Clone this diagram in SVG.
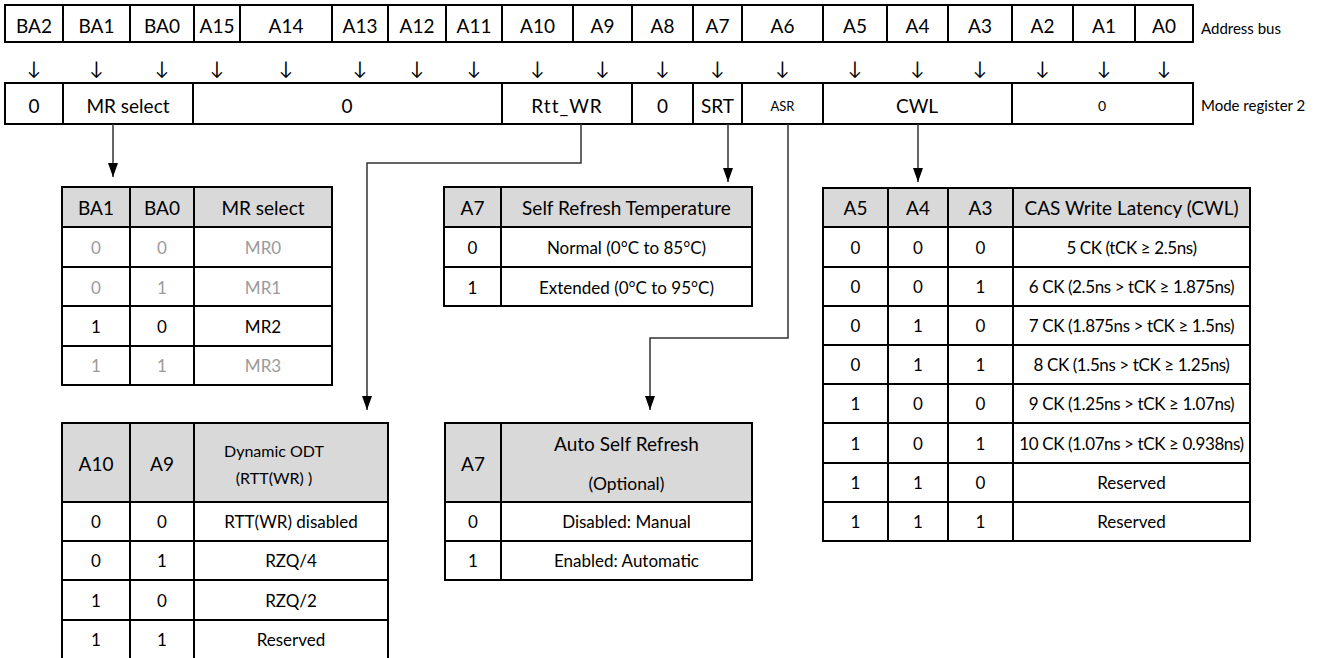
<svg xmlns="http://www.w3.org/2000/svg" width="1321" height="658" viewBox="0 0 1321 658">
<defs>
<style>
text{font-family:Lato,"Open Sans","Liberation Sans",sans-serif;fill:#000;text-anchor:middle;dominant-baseline:central}
.b{fill:none;stroke:#000;stroke-width:2}
.l{stroke:#000;stroke-width:2}
.h{fill:#d9d9d9}
.t{font-size:19px}
.s{font-size:17px}
.c{font-size:17px;letter-spacing:-0.4px}
.g{fill:#9a9a9a}
.ar{font-family:"Liberation Sans",sans-serif;font-size:19px}
.lab{font-size:15px;text-anchor:start}
.con{fill:none;stroke:#333;stroke-width:1.5}
</style>
<marker id="ah" viewBox="0 0 14 10" refX="14" refY="5" markerWidth="14" markerHeight="10" markerUnits="userSpaceOnUse" orient="auto">
<path d="M0,0 L14,5 L0,10 Z" fill="#000"/>
</marker>
</defs>
<rect width="1321" height="658" fill="#fff"/>

<g id="address-bus">
<rect class="b" x="5" y="5" width="1188" height="37"/>
<path class="l" d="M63,5V42M130,5V42M194,5V42M240,5V42M332,5V42M388,5V42M446,5V42M502,5V42M573,5V42M632,5V42M693,5V42M742,5V42M823,5V42M887,5V42M948,5V42M1012,5V42M1073,5V42M1135,5V42"/>
<g class="t">
<text x="34" y="25">BA2</text><text x="96.5" y="25">BA1</text><text x="162" y="25">BA0</text><text x="217" y="25">A15</text><text x="286" y="25">A14</text><text x="360" y="25">A13</text><text x="417" y="25">A12</text><text x="474" y="25">A11</text><text x="537.5" y="25">A10</text><text x="602.5" y="25">A9</text><text x="662.5" y="25">A8</text><text x="717.5" y="25">A7</text><text x="782.5" y="25">A6</text><text x="855" y="25">A5</text><text x="917.5" y="25">A4</text><text x="980" y="25">A3</text><text x="1042.5" y="25">A2</text><text x="1104" y="25">A1</text><text x="1164" y="25">A0</text>
</g>
<text class="lab" x="1201" y="28">Address bus</text>
</g>

<g id="bus-arrows" class="ar">
<text x="34" y="67">↓</text><text x="96.5" y="67">↓</text><text x="162" y="67">↓</text><text x="217" y="67">↓</text><text x="286" y="67">↓</text><text x="360" y="67">↓</text><text x="417" y="67">↓</text><text x="474" y="67">↓</text><text x="537.5" y="67">↓</text><text x="602.5" y="67">↓</text><text x="662.5" y="67">↓</text><text x="717.5" y="67">↓</text><text x="782.5" y="67">↓</text><text x="855" y="67">↓</text><text x="917.5" y="67">↓</text><text x="980" y="67">↓</text><text x="1042.5" y="67">↓</text><text x="1104" y="67">↓</text><text x="1164" y="67">↓</text>
</g>

<g id="mode-register-2">
<rect class="b" x="5" y="83" width="1188" height="41"/>
<path class="l" d="M63,83V124M193,83V124M502,83V124M632,83V124M693,83V124M742,83V124M823,83V124M1012,83V124"/>
<g class="t">
<text x="34" y="105">0</text><text x="128" y="105">MR select</text><text x="347" y="105">0</text><text x="567" y="105" style="letter-spacing:1px">Rtt_WR</text><text x="662.5" y="105">0</text><text x="717.5" y="105">SRT</text><text x="917" y="105">CWL</text>
</g>
<text x="782.5" y="106" style="font-size:13px">ASR</text>
<text x="1102" y="105" style="font-size:14px">0</text>
<text class="lab" x="1201" y="105">Mode register 2</text>
</g>

<g id="connectors">
<path class="con" d="M113,124V177" marker-end="url(#ah)"/>
<path class="con" d="M581,124V163H367V410" marker-end="url(#ah)"/>
<path class="con" d="M728,124V182" marker-end="url(#ah)"/>
<path class="con" d="M788,124V338H650V410" marker-end="url(#ah)"/>
<path class="con" d="M918,124V182" marker-end="url(#ah)"/>
</g>

<g id="mr-select-table">
<rect class="h" x="62" y="187" width="270" height="40"/>
<rect class="b" x="62" y="187" width="270" height="198"/>
<path class="l" d="M130,187V385M194,187V385M62,227H332M62,267H332M62,306H332M62,346H332"/>
<g class="t"><text x="96" y="207">BA1</text><text x="162" y="207">BA0</text><text x="263" y="207">MR select</text></g>
<g class="s">
<text class="g" x="96" y="247">0</text><text class="g" x="162" y="247">0</text><text class="g" x="263" y="247">MR0</text>
<text class="g" x="96" y="287">0</text><text class="g" x="162" y="287">1</text><text class="g" x="263" y="287">MR1</text>
<text x="96" y="326">1</text><text x="162" y="326">0</text><text x="263" y="326">MR2</text>
<text class="g" x="96" y="365">1</text><text class="g" x="162" y="365">1</text><text class="g" x="263" y="365">MR3</text>
</g>
</g>

<g id="srt-table">
<rect class="h" x="444" y="187" width="308" height="40"/>
<rect class="b" x="444" y="187" width="308" height="119"/>
<path class="l" d="M501,187V306M444,227H752M444,267H752"/>
<g class="t"><text x="472.5" y="207">A7</text><text x="626.5" y="207">Self Refresh Temperature</text></g>
<g class="s">
<text x="472.5" y="247">0</text><text x="626.5" y="247">Normal (0°C to 85°C)</text>
<text x="472.5" y="287">1</text><text x="626.5" y="287">Extended (0°C to 95°C)</text>
</g>
</g>

<g id="cwl-table">
<rect class="h" x="823" y="188" width="427" height="39"/>
<rect class="b" x="823" y="188" width="427" height="353"/>
<path class="l" d="M888,188V541M948,188V541M1013,188V541M823,227H1250M823,267H1250M823,306H1250M823,345H1250M823,384H1250M823,423H1250M823,463H1250M823,502H1250"/>
<g class="t"><text x="855.5" y="207.5">A5</text><text x="918" y="207.5">A4</text><text x="980.5" y="207.5">A3</text><text x="1131.5" y="207.5">CAS Write Latency (CWL)</text></g>
<g class="s">
<text x="855.5" y="247">0</text><text x="918" y="247">0</text><text x="980.5" y="247">0</text>
<text x="855.5" y="286.5">0</text><text x="918" y="286.5">0</text><text x="980.5" y="286.5">1</text>
<text x="855.5" y="325.5">0</text><text x="918" y="325.5">1</text><text x="980.5" y="325.5">0</text>
<text x="855.5" y="364.5">0</text><text x="918" y="364.5">1</text><text x="980.5" y="364.5">1</text>
<text x="855.5" y="403.5">1</text><text x="918" y="403.5">0</text><text x="980.5" y="403.5">0</text>
<text x="855.5" y="443">1</text><text x="918" y="443">0</text><text x="980.5" y="443">1</text>
<text x="855.5" y="482.5">1</text><text x="918" y="482.5">1</text><text x="980.5" y="482.5">0</text>
<text x="855.5" y="521.5">1</text><text x="918" y="521.5">1</text><text x="980.5" y="521.5">1</text>
<text x="1131.5" y="482.5">Reserved</text><text x="1131.5" y="521.5">Reserved</text>
</g>
<g class="c">
<text x="1131.5" y="247">5 CK (tCK ≥ 2.5ns)</text>
<text x="1131.5" y="286.5">6 CK (2.5ns &gt; tCK ≥ 1.875ns)</text>
<text x="1131.5" y="325.5">7 CK (1.875ns &gt; tCK ≥ 1.5ns)</text>
<text x="1131.5" y="364.5">8 CK (1.5ns &gt; tCK ≥ 1.25ns)</text>
<text x="1131.5" y="403.5">9 CK (1.25ns &gt; tCK ≥ 1.07ns)</text>
<text x="1131.5" y="443">10 CK (1.07ns &gt; tCK ≥ 0.938ns)</text>
</g>
</g>

<g id="odt-table">
<rect class="h" x="62" y="423" width="326" height="79"/>
<rect class="b" x="62" y="423" width="326" height="236"/>
<path class="l" d="M130,423V659M194,423V659M62,502H388M62,541H388M62,580H388M62,620H388"/>
<g class="t"><text x="96" y="463">A10</text><text x="162" y="463">A9</text></g>
<text x="274" y="450" style="font-size:16px">Dynamic ODT</text>
<text x="274" y="477" style="font-size:16px">(RTT(WR) )</text>
<g class="s">
<text x="96" y="521.5">0</text><text x="162" y="521.5">0</text><text x="291" y="521.5">RTT(WR) disabled</text>
<text x="96" y="560.5">0</text><text x="162" y="560.5">1</text><text x="291" y="560.5">RZQ/4</text>
<text x="96" y="600">1</text><text x="162" y="600">0</text><text x="291" y="600">RZQ/2</text>
<text x="96" y="639.5">1</text><text x="162" y="639.5">1</text><text x="291" y="639.5">Reserved</text>
</g>
</g>

<g id="asr-table">
<rect class="h" x="445" y="423" width="307" height="79"/>
<rect class="b" x="445" y="423" width="307" height="157"/>
<path class="l" d="M501,423V580M445,502H752M445,541H752"/>
<text class="t" x="473" y="463">A7</text>
<text x="626.5" y="443" style="font-size:19px">Auto Self Refresh</text>
<text x="626.5" y="483" style="font-size:17.5px">(Optional)</text>
<g class="s">
<text x="473" y="521.5">0</text><text x="626.5" y="521.5">Disabled: Manual</text>
<text x="473" y="560.5">1</text><text x="626.5" y="560.5">Enabled: Automatic</text>
</g>
</g>
</svg>
